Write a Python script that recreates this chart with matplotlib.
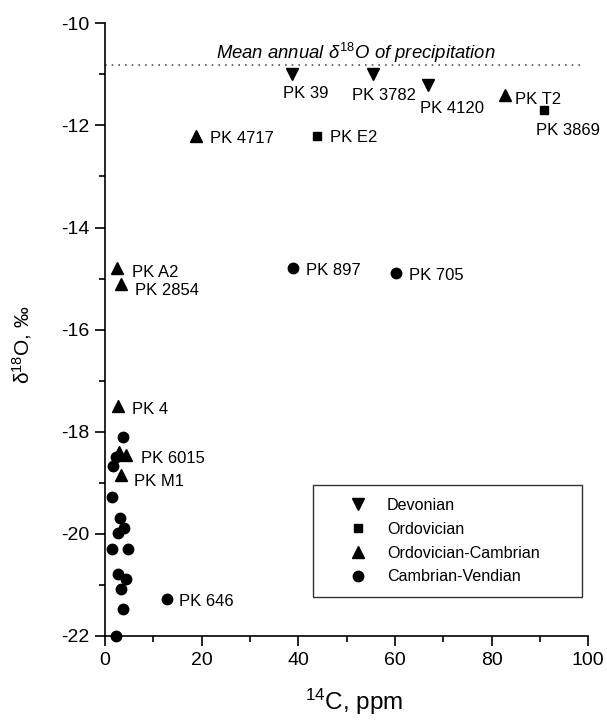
import matplotlib
matplotlib.use("Agg")
import matplotlib.pyplot as plt
from matplotlib.ticker import MultipleLocator

plt.rcParams['font.family'] = ['Liberation Sans', 'DejaVu Sans']
plt.rcParams['mathtext.fontset'] = 'custom'
plt.rcParams['mathtext.rm'] = 'Liberation Sans'
plt.rcParams['mathtext.it'] = 'Liberation Sans:italic'
plt.rcParams['mathtext.bf'] = 'Liberation Sans:bold'
plt.rcParams['axes.unicode_minus'] = False

# ---- data ----
devonian_x = [38.6, 55.5, 66.9]
devonian_y = [-11.0, -11.0, -11.2]

ordovician_x = [43.8, 90.9]
ordovician_y = [-12.2, -11.7]

ordcamb_x = [18.8, 82.8, 2.4, 3.3, 2.6, 2.9, 4.3, 3.4]
ordcamb_y = [-12.2, -11.4, -14.8, -15.1, -17.5, -18.4, -18.45, -18.85]

cambven_x = [38.8, 60.3, 12.8, 3.8, 2.3, 1.7, 1.4, 3.1, 3.9, 2.75, 1.5, 4.7,
             2.75, 4.3, 3.25, 3.8, 2.3]
cambven_y = [-14.8, -14.9, -21.28, -18.1, -18.5, -18.68, -19.28, -19.68, -19.89,
             -19.99, -20.29, -20.29, -20.79, -20.89, -21.08, -21.48, -22.0]

precip_mean = -10.82

label_names = ['PK 39', 'PK 3782', 'PK 4120', 'PK T2', 'PK 3869', 'PK 4717',
               'PK E2', 'PK A2', 'PK 2854', 'PK 897', 'PK 705', 'PK 4',
               'PK 6015', 'PK M1', 'PK 646']
label_x = [38.6, 55.5, 66.9, 82.8, 90.9, 18.8, 43.8, 2.4, 3.3, 38.8, 60.3,
           2.6, 4.3, 3.4, 12.8]
label_y = [-11.0, -11.0, -11.2, -11.4, -11.7, -12.2, -12.2, -14.8, -15.1,
           -14.8, -14.9, -17.5, -18.45, -18.85, -21.28]
# label offsets (pixels: right, down) from the point to the text's left/visual centre
label_dx = [-9, -21, -8, 10, -8, 14, 13, 15, 14, 13, 13, 14, 15, 13, 12]
label_dy = [18, 20, 22, 3, 19, 1, 0, 3, 5, 1, 1, 2, 2, 5, 1]

xticks = [0, 20, 40, 60, 80, 100]
yticks = [-10, -12, -14, -16, -18, -20, -22]

# ---- figure ----
fig = plt.figure(figsize=(6.07, 7.2), dpi=100)
ax = fig.add_axes([105/607, 1 - 636/720, (588.3-105)/607, (636-23.3)/720])

common = dict(linestyle='none', color='black', clip_on=False, zorder=3)
ax.plot(devonian_x, devonian_y, marker='v', markersize=8, label='Devonian', **common)
ax.plot(ordovician_x, ordovician_y, marker='s', markersize=6.3, label='Ordovician', **common)
ax.plot(ordcamb_x, ordcamb_y, marker='^', markersize=8, label='Ordovician-Cambrian', **common)
ax.plot(cambven_x, cambven_y, marker='o', markersize=7.5, label='Cambrian-Vendian', **common)

ax.plot([0, 98.9], [precip_mean, precip_mean], color='#555555', lw=1.2,
        linestyle=(0, (1, 3)), zorder=2)
ax.text(51.9, -10.70, r'Mean annual $\mathit{\delta}^{18}$O of precipitation',
        style='italic', fontsize=13.3, ha='center', va='baseline')

label_fs = 12
cap_half = label_fs / 72 * 100 * 0.716 / 2
for name, x, y, dx, dy in zip(label_names, label_x, label_y, label_dx, label_dy):
    ax.annotate(name, xy=(x, y), xytext=(dx, -(dy + cap_half)),
                textcoords='offset pixels', ha='left', va='baseline',
                fontsize=label_fs)

ax.set_xlim(0, 100)
ax.set_ylim(-22, -10)
ax.set_xticks(xticks)
ax.set_yticks(yticks)
ax.xaxis.set_minor_locator(MultipleLocator(10))
ax.yaxis.set_minor_locator(MultipleLocator(1))

for s in ['top', 'right']:
    ax.spines[s].set_visible(False)
for s in ['left', 'bottom']:
    ax.spines[s].set_linewidth(1.2)

ax.tick_params(which='major', direction='out', length=7.2, width=1.2,
               labelsize=14, pad=4.3)
ax.tick_params(which='minor', direction='out', length=4, width=1.2)
ax.tick_params(axis='x', which='major', pad=4.5)

ax.set_xlabel(r'$^{14}$C, ppm', fontsize=17.5)
ax.set_ylabel('δ$^{18}$O, ‰', fontsize=15)
ax.yaxis.set_label_coords(-0.147, 0.475)
ax.xaxis.set_label_coords(0.516, -0.083)

leg = ax.legend(loc='upper left', bbox_to_anchor=(0.430, 0.0751, 0.557, 0.1714),
                mode='expand', borderaxespad=0, fontsize=11.6, frameon=True,
                fancybox=False, edgecolor='black', borderpad=0.8,
                labelspacing=0.55, handlelength=4.0, handletextpad=-0.2,
                numpoints=1)
leg.get_frame().set_linewidth(1.0)

fig.savefig('out.png', dpi=100)
